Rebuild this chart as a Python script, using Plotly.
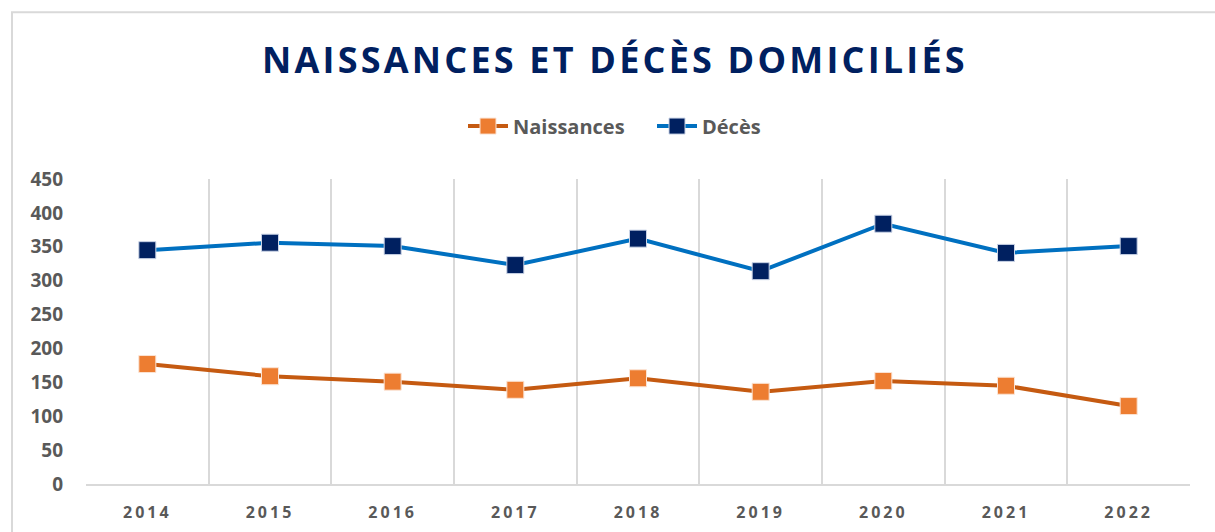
import plotly.graph_objects as go

years = ["2014", "2015", "2016", "2017", "2018", "2019", "2020", "2021", "2022"]
naissances = [177, 159, 151, 139, 156, 136, 152, 145, 115]
deces = [345, 356, 351, 323, 362, 314, 384, 341, 351]
y_ticks = [0, 50, 100, 150, 200, 250, 300, 350, 400, 450]

W, H = 1215, 532
L, R, T, B = 86, 25, 179, 47.5
pw, ph = W - L - R, H - T - B

fig = go.Figure()
fig.add_trace(go.Scatter(
    x=years, y=naissances, name="Naissances", mode="lines+markers",
    line=dict(color="#C55A11", width=4),
    marker=dict(symbol="square", size=17, color="#ED7D31", line=dict(color="#FBE3D3", width=1)),
))
fig.add_trace(go.Scatter(
    x=years, y=deces, name="Décès", mode="lines+markers",
    line=dict(color="#0070C0", width=4),
    marker=dict(symbol="square", size=17, color="#002060", line=dict(color="#C9D3E6", width=1)),
))

fig.update_layout(
    width=W, height=H,
    margin=dict(l=L, r=R, t=T, b=B, autoexpand=False),
    paper_bgcolor="white", plot_bgcolor="white",
    font=dict(family="Open Sans", color="#595959"),
    title=dict(
        text="<b>NAISSANCES ET DÉCÈS DOMICILIÉS</b>",
        font=dict(family="Open Sans", size=36, color="#002060"),
        x=615 / W, xref="container", xanchor="center",
        y=(H - 60) / H, yref="container", yanchor="middle",
    ),
    legend=dict(
        orientation="h", x=(463 - L) / pw, xanchor="left",
        y=(H - B - 126) / ph, yanchor="middle",
        font=dict(family="Open Sans", size=20, color="#595959", weight="bold"),
        itemwidth=40, entrywidth=134, tracegroupgap=0, bgcolor="rgba(0,0,0,0)",
    ),
    showlegend=True,
)
fig.update_xaxes(
    type="category", tickson="boundaries", showgrid=True, gridcolor="#D9D9D9", gridwidth=2,
    showline=True, linecolor="#D9D9D9", linewidth=2, ticks="", range=[-0.5, 8.5],
    tickfont=dict(family="Open Sans", size=16, color="#595959", weight="bold"),
    ticklabelstandoff=13, zeroline=False, automargin=False,
)
fig.update_yaxes(
    range=[0, 450], tickvals=y_ticks, showgrid=False, zeroline=False,
    showline=False, ticks="",
    tickfont=dict(family="Open Sans", size=19, color="#595959", weight="bold"),
    ticklabelstandoff=22, automargin=False,
)
# outer chart border
fig.add_shape(
    type="rect", xref="paper", yref="paper",
    x0=(12 - L) / pw, x1=(1225 - L) / pw,
    y0=(H - B - 545) / ph, y1=(H - B - 12) / ph,
    line=dict(color="#D9D9D9", width=2), fillcolor="rgba(0,0,0,0)", layer="below",
)

post = """
var s=document.createElement('style');
s.innerHTML='body{margin:0;padding:0;} .xtick text{letter-spacing:3px;} .gtitle{letter-spacing:3.2px;}';
document.head.appendChild(s);
"""
fig.write_html("out.html", post_script=post, config={"displayModeBar": False})
